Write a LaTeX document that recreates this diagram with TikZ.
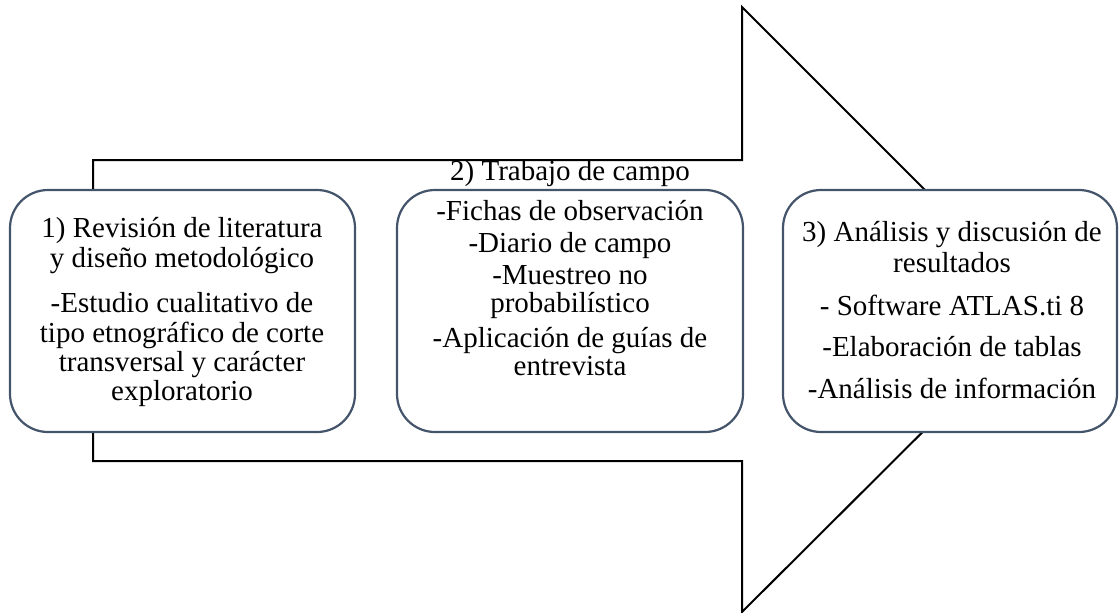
\documentclass[tikz,border=0pt]{standalone}
\usepackage{fontspec}
\setmainfont{Liberation Serif}
\definecolor{boxline}{HTML}{44546A}
\begin{document}
\begin{tikzpicture}[x=1pt,y=-1pt,
  arrowline/.style={draw=black,line width=2pt,line join=miter},
  stagebox/.style={draw=boxline,line width=2.2pt,fill=white,rounded corners=38pt},
  txt/.style={anchor=base,inner sep=0pt,font=\fontsize{29}{31}\selectfont}]
\useasboundingbox (0,0) rectangle (1119,613);
% big arrow outline
\coordinate (a1) at (93,160);
\coordinate (a2) at (742,160);
\coordinate (a3) at (742,7);
\coordinate (tip) at (1045,310);
\coordinate (a5) at (742,612);
\coordinate (a6) at (742,461);
\coordinate (a7) at (93,461);
\draw[arrowline] (a1) -- (a2) -- (a3) -- (tip) -- (a5) -- (a6) -- (a7) -- cycle;
% boxes
\draw[stagebox] (10,190) rectangle (355,432);
\draw[stagebox] (397,190) rectangle (743,432);
\draw[stagebox] (783,190) rectangle (1117,432);
% box 1 text
\node[txt] (b1a) at (182,237) {1) Revisión de literatura};
\node[txt] (b1b) at (182,267) {y diseño metodológico};
\node[txt] (b1c) at (182,312) {-Estudio cualitativo de};
\node[txt] (b1d) at (182,342) {tipo etnográfico de corte};
\node[txt] (b1e) at (182,371) {transversal y carácter};
\node[txt] (b1f) at (182,400) {exploratorio};
% box 2 text
\node[txt] (b2a) at (570,180) {2) Trabajo de campo};
\node[txt] (b2b) at (570,220) {-Fichas de observación};
\node[txt] (b2c) at (570,252) {-Diario de campo};
\node[txt] (b2d) at (570,284) {-Muestreo no};
\node[txt] (b2e) at (570,312) {probabilístico};
\node[txt] (b2f) at (570,347) {-Aplicación de guías de};
\node[txt] (b2g) at (570,375) {entrevista};
% box 3 text
\node[txt] (b3a) at (952,241) {3) Análisis y discusión de};
\node[txt] (b3b) at (952,272) {resultados};
\node[txt] (b3c) at (952,315) {- Software ATLAS.ti 8};
\node[txt] (b3d) at (952,356) {-Elaboración de tablas};
\node[txt] (b3e) at (952,398) {-Análisis de información};
\end{tikzpicture}
\end{document}
